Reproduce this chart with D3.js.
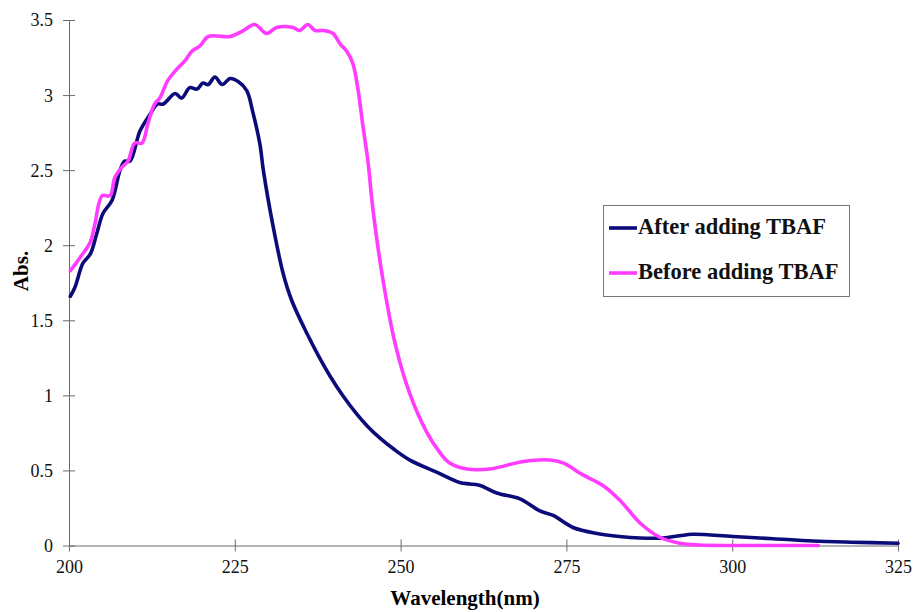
<!DOCTYPE html>
<html>
<head>
<meta charset="utf-8">
<script src="https://cdn.jsdelivr.net/npm/d3@7"></script>
<style>
  body { margin: 0; background: #fff; }
  text { font-family: "Liberation Serif", "Times New Roman", serif; }
</style>
</head>
<body>
<svg width="918" height="612"></svg>
<script>
// wavelength (nm) / absorbance
const afterWl = [200.2, 200.9, 202.1, 203.2, 204.2, 205.1, 206.5, 207.7, 208.4, 209.2, 210.7, 212.2, 213.3, 214.2,
  216.0, 217.0, 218.2, 219.3, 220.2, 221.0, 222.0, 223.1, 224.3, 225.5, 226.8, 227.7, 228.8, 229.3, 230.8,
  232.3, 233.6, 235.9, 237.6, 239.4, 241.3, 243.4, 245.0, 246.9, 249.0, 251.4, 255.5, 258.9, 260.5, 262.0,
  264.5, 268.0, 271.0, 273.0, 276.0, 279.6, 283.0, 286.1, 289.5, 292.1, 294.0, 300.1, 306.2, 312.2, 318.0, 325.0];
const afterAbs = [1.66, 1.72, 1.88, 1.94, 2.08, 2.21, 2.30, 2.50, 2.56, 2.56, 2.76, 2.87, 2.94, 2.94,
  3.01, 2.98, 3.05, 3.04, 3.08, 3.07, 3.12, 3.07, 3.11, 3.09, 3.03, 2.89, 2.67, 2.50, 2.12,
  1.81, 1.63, 1.41, 1.265, 1.126, 0.997, 0.875, 0.795, 0.715, 0.641, 0.569, 0.487, 0.42, 0.41, 0.40,
  0.35, 0.31, 0.23, 0.20, 0.12, 0.08, 0.06, 0.05, 0.05, 0.065, 0.075, 0.06, 0.045, 0.03, 0.022, 0.015];

const beforeWl = [200.2, 201.7, 203.2, 203.9, 205.0, 206.2, 206.9, 208.0, 208.9, 209.9, 211.0, 211.9, 212.9, 213.7,
  214.8, 216.0, 217.5, 218.5, 219.8, 221.0, 224.3, 226.3, 228.0, 229.8, 231.3, 233.8, 234.8, 236.0, 237.1,
  238.3, 239.8, 240.9, 241.9, 242.8, 243.6, 244.3, 245.1, 245.8, 247.3, 249.2, 251.4, 254.0, 255.9, 257.4,
  260.0, 263.5, 268.5, 272.5, 274.5, 277.5, 280.5, 283.1, 286.1, 289.1, 292.1, 295.0, 300.0, 313.0];
const beforeAbs = [1.83, 1.92, 2.02, 2.14, 2.33, 2.33, 2.45, 2.52, 2.56, 2.68, 2.68, 2.81, 2.94, 2.98,
  3.09, 3.16, 3.23, 3.29, 3.33, 3.39, 3.39, 3.43, 3.47, 3.41, 3.45, 3.45, 3.43, 3.47, 3.43,
  3.43, 3.41, 3.34, 3.29, 3.21, 3.03, 2.80, 2.55, 2.25, 1.78, 1.34, 1.01, 0.75, 0.62, 0.55,
  0.51, 0.51, 0.56, 0.57, 0.55, 0.47, 0.40, 0.30, 0.15, 0.055, 0.015, 0.003, 0.0, 0.0];

const xTicks = [200, 225, 250, 275, 300, 325];
const yTicks = [0, 0.5, 1, 1.5, 2, 2.5, 3, 3.5];
const seriesNames = ["After adding TBAF", "Before adding TBAF"];
const seriesColors = ["#0b0b7a", "#ff3cff"];

const svg = d3.select("svg");

const x = d3.scaleLinear().domain([200, 325]).range([69, 898]);
const y = d3.scaleLinear().domain([0, 3.5]).range([545.5, 20]);

const axisColor = "#6b6b6b";

// x axis
const xAxis = d3.axisBottom(x).tickValues(xTicks).tickSize(0).tickPadding(0);
const gx = svg.append("g").attr("transform", "translate(0,545.5)").call(xAxis);
gx.select(".domain").attr("stroke", axisColor);
gx.selectAll(".tick line").remove();
gx.selectAll(".tick").append("line").attr("y1", -6).attr("y2", 6).attr("stroke", axisColor);
gx.selectAll(".tick text").attr("y", 27).attr("dy", 0)
  .attr("font-size", 18).attr("fill", "#111")
  .style("font-family", "'Liberation Serif', serif");

// y axis
const yAxis = d3.axisLeft(y).tickValues(yTicks).tickSize(0).tickPadding(0)
  .tickFormat(d3.format("~g"));
const gy = svg.append("g").attr("transform", "translate(69,0)").call(yAxis);
gy.select(".domain").attr("stroke", axisColor);
gy.selectAll(".tick line").remove();
gy.selectAll(".tick").append("line").attr("x1", -6).attr("x2", 6).attr("stroke", axisColor);
gy.selectAll(".tick text").attr("x", -16).attr("dy", "0.33em")
  .attr("font-size", 18).attr("fill", "#111")
  .style("font-family", "'Liberation Serif', serif");

// axis titles
svg.append("text").attr("x", 465).attr("y", 605).attr("text-anchor", "middle")
  .attr("font-size", 21).attr("font-weight", "bold").text("Wavelength(nm)");
svg.append("text").attr("transform", "translate(28,271) rotate(-90)").attr("text-anchor", "middle")
  .attr("font-size", 21).attr("font-weight", "bold").text("Abs.");

// lines
const line = d3.line()
  .x(d => x(d[0]))
  .y(d => y(d[1]))
  .curve(d3.curveCatmullRom.alpha(0.5));

const series = [
  d3.zip(afterWl, afterAbs),
  d3.zip(beforeWl, beforeAbs)
];

svg.append("g").selectAll("path")
  .data(series)
  .join("path")
  .attr("d", line)
  .attr("fill", "none")
  .attr("stroke", (d, i) => seriesColors[i])
  .attr("stroke-width", 3.6)
  .attr("stroke-linejoin", "round")
  .attr("stroke-linecap", "round");

// legend
const lg = svg.append("g");
lg.append("rect").attr("x", 603.5).attr("y", 205.5).attr("width", 246).attr("height", 91)
  .attr("fill", "#fff").attr("stroke", "#777");
seriesNames.forEach((name, i) => {
  const ly = 228 + i * 45;
  lg.append("line").attr("x1", 609).attr("x2", 637).attr("y1", ly).attr("y2", ly)
    .attr("stroke", seriesColors[i]).attr("stroke-width", 3.6);
  lg.append("text").attr("x", 638).attr("y", ly + 6)
    .attr("font-size", 22.5).attr("font-weight", "bold").attr("fill", "#111").text(name);
});
</script>
</body>
</html>
